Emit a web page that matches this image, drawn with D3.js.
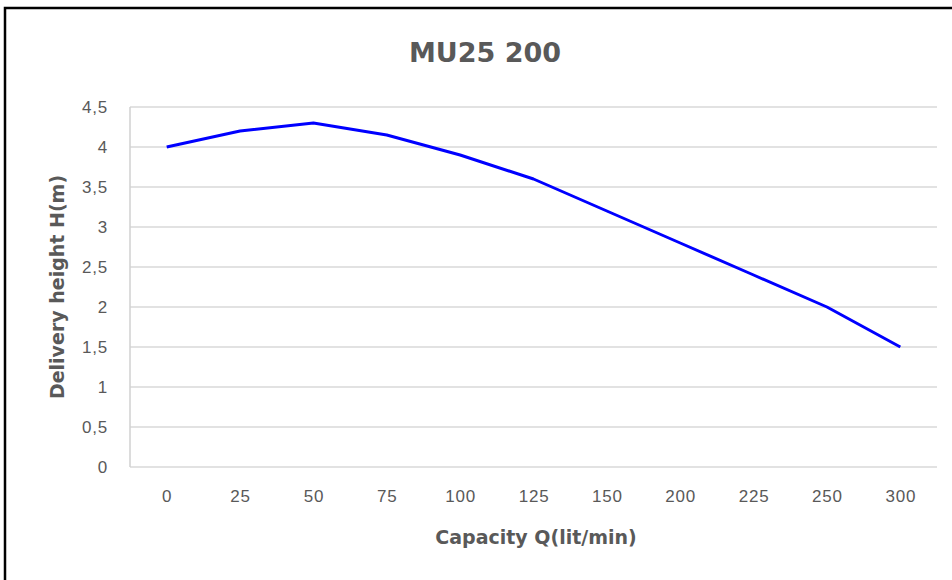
<!DOCTYPE html>
<html>
<head>
<meta charset="utf-8">
<script src="https://cdn.jsdelivr.net/npm/d3@7"></script>
<style>
  body { margin: 0; background: #fff; }
  svg { display: block; font-family: "Liberation Sans", Arial, sans-serif; }
</style>
</head>
<body>
<div id="chart"></div>
<script>
// Pump curve MU25 200
const capacities = ["0", "25", "50", "75", "100", "125", "150", "200", "225", "250", "300"];
const heights = [4.0, 4.2, 4.3, 4.15, 3.9, 3.6, 3.2, 2.8, 2.4, 2.0, 1.5];
const yTicks = [0, 0.5, 1, 1.5, 2, 2.5, 3, 3.5, 4, 4.5];
const chartTitle = "MU25 200";
const xTitle = "Capacity Q(lit/min)";
const yTitle = "Delivery height H(m)";

const width = 952, height = 580;
const margin = {top: 107, right: 15, bottom: 113, left: 130};
const textColor = "#595959";
const titleFont = "'DejaVu Sans', sans-serif";
const tickFont = "'Liberation Sans', Arial, sans-serif";

const svg = d3.select("#chart")
  .append("svg")
    .attr("width", width)
    .attr("height", height);

// frame (only top and left edges show in the crop)
svg.append("path")
  .attr("d", `M5,${height} L5,8 L${width},8`)
  .attr("fill", "none")
  .attr("stroke", "#000")
  .attr("stroke-width", 2.5);

const x = d3.scalePoint()
  .domain(capacities)
  .range([margin.left, width - margin.right])
  .padding(0.5);

const y = d3.scaleLinear()
  .domain([0, 4.5])
  .range([height - margin.bottom, margin.top]);

// gridlines
svg.append("g")
  .selectAll("line")
  .data(yTicks)
  .join("line")
    .attr("x1", margin.left)
    .attr("x2", width - margin.right)
    .attr("y1", d => y(d))
    .attr("y2", d => y(d))
    .attr("stroke", "#d9d9d9")
    .attr("stroke-width", 1.5);

// left axis line
svg.append("line")
  .attr("x1", margin.left).attr("x2", margin.left)
  .attr("y1", y(4.5)).attr("y2", y(0))
  .attr("stroke", "#d0d0d0")
  .attr("stroke-width", 1.5);

// y axis labels
const yAxis = d3.axisLeft(y)
  .tickValues(yTicks)
  .tickSize(0)
  .tickPadding(22)
  .tickFormat(d => String(d).replace(".", ","));

svg.append("g")
  .attr("transform", `translate(${margin.left},0)`)
  .call(yAxis)
  .call(g => g.select(".domain").remove())
  .call(g => g.selectAll("text")
    .attr("fill", textColor)
    .attr("font-size", 17)
    .attr("letter-spacing", 0.8)
    .attr("font-family", tickFont));

// x axis labels
const xAxis = d3.axisBottom(x)
  .tickSize(0)
  .tickPadding(23);

svg.append("g")
  .attr("transform", `translate(0,${y(0)})`)
  .call(xAxis)
  .call(g => g.select(".domain").remove())
  .call(g => g.selectAll("text")
    .attr("fill", textColor)
    .attr("font-size", 17)
    .attr("letter-spacing", 0.8)
    .attr("font-family", tickFont));

// line
const line = d3.line()
  .x((d, i) => x(capacities[i]))
  .y(d => y(d));

svg.append("path")
  .datum(heights)
  .attr("d", line)
  .attr("fill", "none")
  .attr("stroke", "#0000ff")
  .attr("stroke-width", 3)
  .attr("stroke-linejoin", "round");

// titles
svg.append("text")
  .attr("x", 485)
  .attr("y", 62)
  .attr("text-anchor", "middle")
  .attr("font-family", titleFont)
  .attr("font-size", 27)
  .attr("font-weight", "bold")
  .attr("fill", textColor)
  .text(chartTitle);

svg.append("text")
  .attr("x", 536)
  .attr("y", 544)
  .attr("text-anchor", "middle")
  .attr("font-family", titleFont)
  .attr("font-size", 19)
  .attr("font-weight", "bold")
  .attr("fill", textColor)
  .text(xTitle);

svg.append("text")
  .attr("transform", `translate(64,${(y(0) + y(4.5)) / 2}) rotate(-90)`)
  .attr("text-anchor", "middle")
  .attr("font-family", titleFont)
  .attr("font-size", 19)
  .attr("font-weight", "bold")
  .attr("fill", textColor)
  .text(yTitle);
</script>
</body>
</html>
